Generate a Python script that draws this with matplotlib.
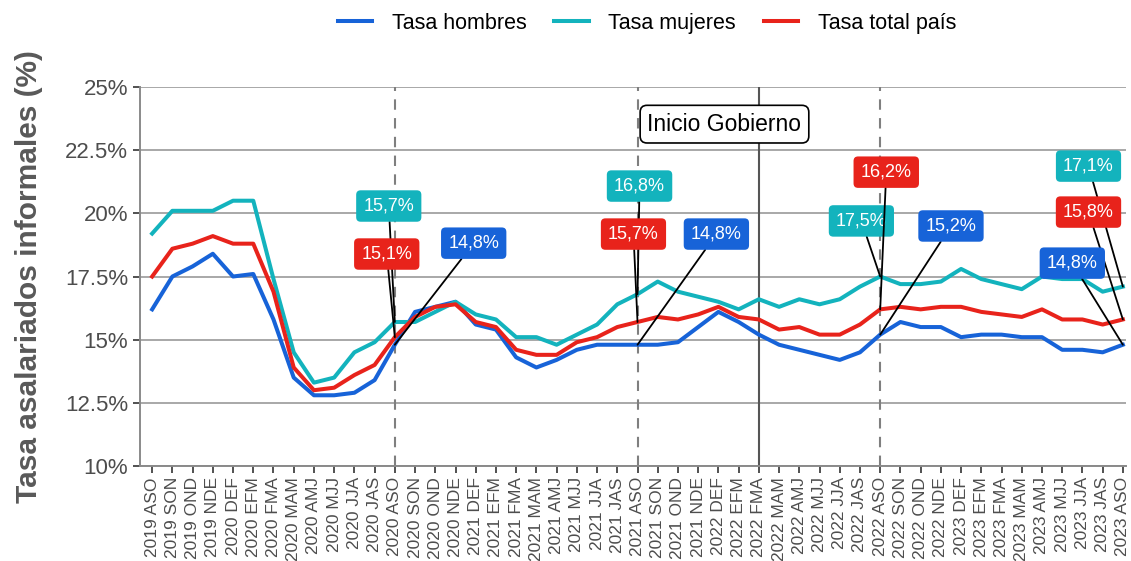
import matplotlib
matplotlib.use("Agg")
import matplotlib.pyplot as plt

plt.rcParams['font.family'] = ['Liberation Sans', 'DejaVu Sans']

# Trimestres móviles
periodos = [
    "2019 ASO", "2019 SON", "2019 OND", "2019 NDE", "2020 DEF", "2020 EFM", "2020 FMA",
    "2020 MAM", "2020 AMJ", "2020 MJJ", "2020 JJA", "2020 JAS", "2020 ASO", "2020 SON",
    "2020 OND", "2020 NDE", "2021 DEF", "2021 EFM", "2021 FMA", "2021 MAM", "2021 AMJ",
    "2021 MJJ", "2021 JJA", "2021 JAS", "2021 ASO", "2021 SON", "2021 OND", "2021 NDE",
    "2022 DEF", "2022 EFM", "2022 FMA", "2022 MAM", "2022 AMJ", "2022 MJJ", "2022 JJA",
    "2022 JAS", "2022 ASO", "2022 SON", "2022 OND", "2022 NDE", "2023 DEF", "2023 EFM",
    "2023 FMA", "2023 MAM", "2023 AMJ", "2023 MJJ", "2023 JJA", "2023 JAS", "2023 ASO",
]

tasa_hombres = [
    16.2, 17.5, 17.9, 18.4, 17.5, 17.6, 15.8, 13.5, 12.8, 12.8, 12.9, 13.4, 14.8,
    16.1, 16.3, 16.5, 15.6, 15.4, 14.3, 13.9, 14.2, 14.6, 14.8, 14.8, 14.8,
    14.8, 14.9, 15.5, 16.1, 15.7, 15.2, 14.8, 14.6, 14.4, 14.2, 14.5, 15.2,
    15.7, 15.5, 15.5, 15.1, 15.2, 15.2, 15.1, 15.1, 14.6, 14.6, 14.5, 14.8,
]
tasa_mujeres = [
    19.2, 20.1, 20.1, 20.1, 20.5, 20.5, 17.4, 14.5, 13.3, 13.5, 14.5, 14.9, 15.7,
    15.7, 16.1, 16.5, 16.0, 15.8, 15.1, 15.1, 14.8, 15.2, 15.6, 16.4, 16.8,
    17.3, 16.9, 16.7, 16.5, 16.2, 16.6, 16.3, 16.6, 16.4, 16.6, 17.1, 17.5,
    17.2, 17.2, 17.3, 17.8, 17.4, 17.2, 17.0, 17.5, 17.4, 17.4, 16.9, 17.1,
]
tasa_total = [
    17.5, 18.6, 18.8, 19.1, 18.8, 18.8, 16.9, 13.9, 13.0, 13.1, 13.6, 14.0, 15.1,
    15.9, 16.3, 16.4, 15.7, 15.5, 14.6, 14.4, 14.4, 14.9, 15.1, 15.5, 15.7,
    15.9, 15.8, 16.0, 16.3, 15.9, 15.8, 15.4, 15.5, 15.2, 15.2, 15.6, 16.2,
    16.3, 16.2, 16.3, 16.3, 16.1, 16.0, 15.9, 16.2, 15.8, 15.8, 15.6, 15.8,
]

# Periodos etiquetados y líneas de referencia
idx_etiquetas = [12, 24, 36, 48]
idx_gobierno = 30
y_ticks = [10, 12.5, 15, 17.5, 20, 22.5, 25]
y_labels = ["10%", "12.5%", "15%", "17.5%", "20%", "22.5%", "25%"]

colores = {"hombres": "#1763d8", "mujeres": "#13b3bd", "total": "#e8231b"}

# posiciones de las cajas de texto (x, y en datos) para cada periodo etiquetado
pos_hombres = [(15.9, 18.82), (27.9, 19.18), (39.5, 19.5), (45.5, 18.03)]
pos_mujeres = [(11.7, 20.29), (24.1, 21.08), (35.07, 19.7), (46.3, 21.87)]
pos_total = [(11.6, 18.39), (23.8, 19.18), (36.3, 21.63), (46.3, 20.05)]

fig = plt.figure(figsize=(11.31, 5.61), dpi=100)
ax = fig.add_axes([0.1238, 0.1693, 0.8717, 0.6756])

x = list(range(len(periodos)))

for yv in y_ticks:
    ax.axhline(yv, color="#a8a8a8", lw=1.4, zorder=0)

for i in idx_etiquetas[:3]:
    ax.axvline(i, color="#7f7f7f", lw=1.5, ls=(0, (5, 4)), zorder=1)
ax.axvline(idx_gobierno, color="#555555", lw=1.5, zorder=1)

ax.plot(x, tasa_hombres, color=colores["hombres"], lw=2.9, label="Tasa hombres", zorder=3)
ax.plot(x, tasa_mujeres, color=colores["mujeres"], lw=2.9, label="Tasa mujeres", zorder=3)
ax.plot(x, tasa_total, color=colores["total"], lw=2.9, label="Tasa total país", zorder=3)


def etiqueta(serie, posiciones, color):
    for i, (tx, ty) in zip(idx_etiquetas, posiciones):
        texto = f"{serie[i]:.1f}%".replace(".", ",")
        ax.annotate(texto, xy=(i, serie[i]), xytext=(tx, ty), ha="center", va="center",
                    color="white", fontsize=13, zorder=5,
                    bbox=dict(boxstyle="round,pad=0.4,rounding_size=0.25", fc=color, ec="none"),
                    arrowprops=dict(arrowstyle="-", color="black", lw=1.3,
                                    shrinkA=0, shrinkB=0))


etiqueta(tasa_mujeres, pos_mujeres, colores["mujeres"])
etiqueta(tasa_total, pos_total, colores["total"])
etiqueta(tasa_hombres, pos_hombres, colores["hombres"])

ax.text(28.3, 23.53, "Inicio Gobierno", ha="center", va="center", fontsize=16.5, zorder=6,
        bbox=dict(boxstyle="round,pad=0.32,rounding_size=0.3", fc="white", ec="black", lw=1.2))

ax.set_xlim(-0.6, 48.15)
ax.set_ylim(10, 25)
ax.set_xticks(x)
ax.set_xticklabels(periodos, rotation=90, fontsize=12.5, color="#4d4d4d")
ax.set_yticks(y_ticks)
ax.set_yticklabels(y_labels, fontsize=16, color="#4d4d4d")
ax.tick_params(axis="both", color="#333333", length=5, width=1.2)
ax.tick_params(axis="x", pad=3)

for lado in ["top", "right"]:
    ax.spines[lado].set_visible(False)
for lado in ["left", "bottom"]:
    ax.spines[lado].set_color("#8a8a8a")
    ax.spines[lado].set_linewidth(1.4)

ax.set_ylabel("Tasa asalariados informales (%)", fontsize=21.5, fontweight="bold",
              color="#595959", labelpad=16)

fig.legend(loc="center", bbox_to_anchor=(0.572, 0.959), ncol=3, frameon=False,
           fontsize=15.5, handlelength=1.6, handletextpad=0.9, columnspacing=1.3)

fig.savefig("out.png", dpi=100)
